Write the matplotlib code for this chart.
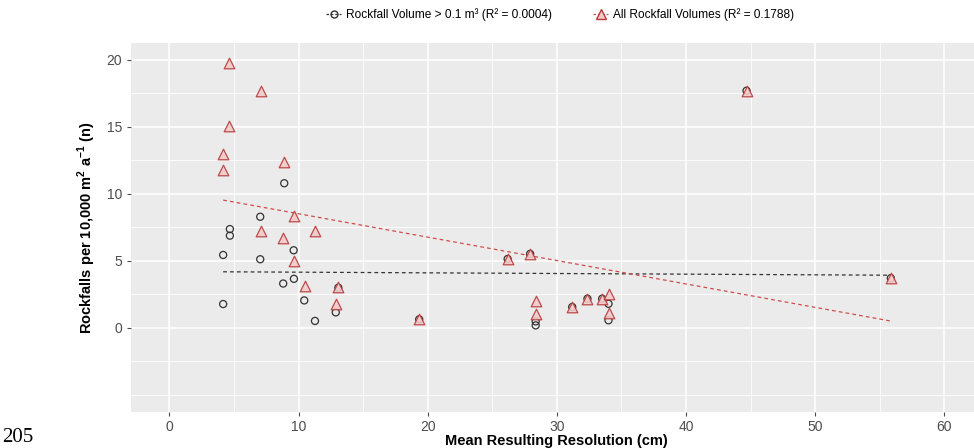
import numpy as np
import matplotlib
matplotlib.use("Agg")
from matplotlib import pyplot as plt
from matplotlib.lines import Line2D

plt.rcParams['font.family'] = ['Liberation Sans', 'DejaVu Sans']
plt.rcParams['mathtext.fontset'] = 'custom'
plt.rcParams['mathtext.rm'] = 'Liberation Sans'
plt.rcParams['mathtext.bf'] = 'Liberation Sans:bold'

# all rockfall volumes (triangles)
res_all = [4.65, 7.06, 4.65, 4.16, 4.16, 8.84, 9.62, 7.06, 11.27, 8.81, 9.62, 10.47, 13.08,
           12.88, 19.34, 26.19, 27.93, 28.36, 28.36, 31.19, 32.37, 33.51, 34.0, 34.0, 44.69, 55.86]
rate_all = [19.75, 17.64, 15.09, 13.0, 11.78, 12.37, 8.31, 7.22, 7.22, 6.68, 4.97, 3.16, 3.04,
            1.80, 0.64, 5.14, 5.52, 1.98, 1.05, 1.56, 2.18, 2.18, 2.55, 1.14, 17.69, 3.71]

# rockfall volume > 0.1 m3 (circles)
res_big = [8.89, 7.03, 4.68, 4.68, 4.16, 7.03, 9.62, 8.81, 9.64, 10.44, 4.16, 12.88, 11.27,
           13.08, 19.34, 26.19, 27.93, 28.36, 28.36, 31.19, 32.37, 33.51, 34.0, 34.0, 44.69, 55.86]
rate_big = [10.79, 8.29, 7.37, 6.88, 5.44, 5.12, 5.79, 3.31, 3.66, 2.05, 1.78, 1.16, 0.52,
            3.0, 0.64, 5.14, 5.52, 0.49, 0.19, 1.56, 2.18, 2.18, 1.8, 0.57, 17.69, 3.71]

lab_big = "Rockfall Volume > 0.1 m³ (R² = 0.0004)"
lab_all = "All Rockfall Volumes (R² = 0.1788)"

x_ticks = [0, 10, 20, 30, 40, 50, 60]
y_ticks = [0, 5, 10, 15, 20]

blk = '#333333'
red_edge = '#b83a3a'
red_face = '#f3caca'
red_line = '#d24b4b'

W, H = 974, 448
fig = plt.figure(figsize=(W / 100, H / 100), dpi=100)
ax = fig.add_axes([130.7 / W, 36.3 / H, (983 - 130.7) / W, (405 - 36.3) / H])
ax.set_facecolor('#EBEBEB')
for s in ax.spines.values():
    s.set_visible(False)

ax.set_xlim(-3, 63)
ax.set_ylim(-6.25, 21.25)
ax.set_xticks(x_ticks)
ax.set_yticks(y_ticks)
ax.set_xticks(np.arange(5, 65, 10), minor=True)
ax.set_yticks([-5, -2.5, 2.5, 7.5, 12.5, 17.5], minor=True)
ax.grid(which='major', color='white', lw=1.1)
ax.grid(which='minor', color='white', lw=0.6)
ax.set_axisbelow(True)
ax.tick_params(which='major', length=3, color='#4D4D4D', labelcolor='#4D4D4D',
               labelsize=10, pad=3)
ax.tick_params(which='minor', length=0)

# regression lines
for xs, ys, col in [(res_big, rate_big, blk), (res_all, rate_all, red_line)]:
    xs = np.array(xs)
    fit = np.poly1d(np.polyfit(xs, ys, 1))
    xx = np.array([xs.min(), xs.max()])
    ax.plot(xx, fit(xx), ls=(0, (3, 2.5)), color=col, lw=0.9, zorder=2)

ax.scatter(res_big, rate_big, s=26, facecolors='none', edgecolors=blk, lw=0.9, zorder=3)
ax.scatter(res_all, rate_all, s=58, marker='^', facecolors=red_face, edgecolors=red_edge,
           lw=0.9, alpha=0.9, zorder=4)

ax.set_xlabel("Mean Resulting Resolution (cm)", fontsize=10.5, fontweight='bold', labelpad=0)
ax.set_ylabel(r"Rockfalls per 10,000 m$^{\mathbf{2}}$ a$^{\mathbf{-1}}$ (n)", fontsize=10.5,
              fontweight='bold', labelpad=6)

handles = [
    Line2D([], [], color=blk, ls=(0, (2, 1.5)), lw=0.9, marker='o', ms=5,
           mfc='none', mec=blk),
    Line2D([], [], color=red_line, ls=(0, (2, 1.5)), lw=0.9, marker='^', ms=7,
           mfc=red_face, mec=red_edge),
]
fig.legend(handles, [lab_big, lab_all], loc='center', bbox_to_anchor=(560 / W, 1 - 15 / H),
           ncol=2, frameon=False, fontsize=8.6, handlelength=1.3, handletextpad=0.4,
           columnspacing=3.4)

fig.text(2 / W, 6 / H, "205", family='Liberation Serif', fontsize=15, va='baseline', ha='left')

fig.savefig("out.png", dpi=100)
